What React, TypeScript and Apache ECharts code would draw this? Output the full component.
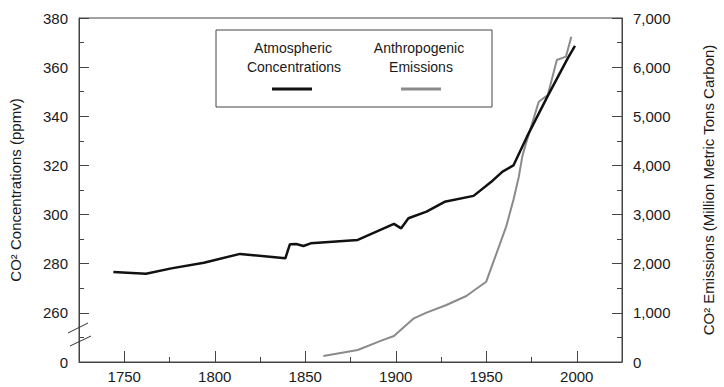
import React, { useEffect, useRef } from "react";
import * as echarts from "echarts";

const concYears = [1744, 1762, 1776, 1794, 1814, 1839, 1841.5, 1845, 1849, 1853, 1879, 1899, 1903, 1907, 1917, 1927, 1943, 1953.5, 1959, 1965, 1972.5, 1984, 1995, 1999];
const concValues = [276.6, 275.9, 278.1, 280.4, 284.0, 282.2, 287.9, 288.0, 287.2, 288.3, 289.7, 296.2, 294.4, 298.5, 301.2, 305.2, 307.6, 313.8, 317.5, 320.0, 331.7, 348.3, 363.6, 368.7];

const emisYears = [1860, 1879, 1892, 1899, 1910, 1917, 1928, 1939, 1943, 1950, 1955, 1961, 1965, 1968, 1970, 1972, 1979, 1984, 1989, 1994, 1997];
const emisValues = [122, 244, 434, 529, 889, 1004, 1160, 1343, 1450, 1634, 2143, 2753, 3297, 3771, 4200, 4450, 5297, 5434, 6146, 6213, 6620];

const seriesNames = ["Atmospheric Concentrations", "Anthropogenic Emissions"];
const leftAxisName = "CO² Concentrations (ppmv)";
const rightAxisName = "CO² Emissions (Million Metric Tons Carbon)";

const FONT = "'Liberation Sans', Arial, sans-serif";
const AXIS_COLOR = "#444";
const TEXT_COLOR = "#1a1a1a";

export default function App() {
  const ref = useRef<HTMLDivElement>(null);
  useEffect(() => {
    document.body.style.margin = "0";
    if (!ref.current) return;
    const chart = echarts.init(ref.current, null, { renderer: "svg" });
    const concData = concYears.map((y, i) => [y, concValues[i]]);
    const emisData = emisYears.map((y, i) => [y, emisValues[i]]);
    chart.setOption({
      animation: false,
      backgroundColor: "#fff",
      textStyle: { fontFamily: FONT },
      grid: {
        left: 78,
        right: 94,
        top: 18,
        bottom: 25,
        show: true,
        borderColor: AXIS_COLOR,
        borderWidth: 1,
        backgroundColor: "transparent",
      },
      xAxis: {
        type: "value",
        min: 1725,
        max: 2025,
        splitNumber: 6,
        axisLine: { show: true, lineStyle: { color: AXIS_COLOR, width: 1 } },
        axisTick: { show: true, inside: true, length: 11, lineStyle: { color: AXIS_COLOR } },
        minorTick: { show: true, splitNumber: 2, length: 5, lineStyle: { color: AXIS_COLOR } },
        splitLine: { show: false },
        axisLabel: {
          margin: 7,
          color: TEXT_COLOR,
          fontSize: 15,
          fontFamily: FONT,
          formatter: (v: number) => (v % 50 === 0 ? String(v) : ""),
        },
      },
      yAxis: [
        {
          type: "value",
          min: 240,
          max: 380,
          interval: 20,
          position: "left",
          name: leftAxisName,
          nameLocation: "middle",
          nameRotate: 90,
          nameGap: 56,
          nameTextStyle: { fontSize: 15, color: TEXT_COLOR, fontFamily: FONT },
          axisLine: { show: true, lineStyle: { color: AXIS_COLOR, width: 1 } },
          axisTick: { show: true, inside: true, length: 10, lineStyle: { color: AXIS_COLOR } },
          minorTick: { show: true, splitNumber: 2, length: 5, lineStyle: { color: AXIS_COLOR } },
          splitLine: { show: false },
          axisLabel: {
            margin: 11,
            color: TEXT_COLOR,
            fontSize: 15,
            fontFamily: FONT,
            formatter: (v: number) => (v === 240 ? "0" : String(v)),
          },
        },
        {
          type: "value",
          min: 0,
          max: 7000,
          interval: 1000,
          position: "right",
          name: rightAxisName,
          nameLocation: "middle",
          nameRotate: 90,
          nameGap: 79,
          nameTextStyle: { fontSize: 15, color: TEXT_COLOR, fontFamily: FONT },
          axisLine: { show: true, lineStyle: { color: AXIS_COLOR, width: 1 } },
          axisTick: { show: true, inside: true, length: 10, lineStyle: { color: AXIS_COLOR } },
          minorTick: { show: true, splitNumber: 2, length: 5, lineStyle: { color: AXIS_COLOR } },
          splitLine: { show: false },
          axisLabel: {
            margin: 11,
            color: TEXT_COLOR,
            fontSize: 15,
            fontFamily: FONT,
            formatter: (v: number) => v.toLocaleString("en-US"),
          },
        },
      ],
      series: [
        {
          name: seriesNames[1],
          type: "line",
          yAxisIndex: 1,
          data: emisData,
          showSymbol: false,
          lineStyle: { color: "#8a8a8a", width: 2 },
          z: 2,
        },
        {
          name: seriesNames[0],
          type: "line",
          yAxisIndex: 0,
          data: concData,
          showSymbol: false,
          lineStyle: { color: "#111", width: 2.5 },
          z: 3,
        },
      ],
      graphic: [
        {
          type: "rect",
          shape: { x: 216, y: 30, width: 276, height: 77 },
          style: { fill: "#fff", stroke: AXIS_COLOR, lineWidth: 1 },
          z: 10,
        },
        {
          type: "text",
          x: 293,
          y: 48,
          style: { text: "Atmospheric", font: `14px ${FONT}`, fill: TEXT_COLOR, align: "center", verticalAlign: "middle", textAlign: "center", textVerticalAlign: "middle" },
          z: 11,
        },
        {
          type: "text",
          x: 294,
          y: 67,
          style: { text: "Concentrations", font: `14px ${FONT}`, fill: TEXT_COLOR, align: "center", verticalAlign: "middle", textAlign: "center", textVerticalAlign: "middle" },
          z: 11,
        },
        {
          type: "line",
          shape: { x1: 272, y1: 89, x2: 312, y2: 89 },
          style: { stroke: "#111", lineWidth: 3 },
          z: 11,
        },
        {
          type: "text",
          x: 419,
          y: 48,
          style: { text: "Anthropogenic", font: `14px ${FONT}`, fill: TEXT_COLOR, align: "center", verticalAlign: "middle", textAlign: "center", textVerticalAlign: "middle" },
          z: 11,
        },
        {
          type: "text",
          x: 421,
          y: 67,
          style: { text: "Emissions", font: `14px ${FONT}`, fill: TEXT_COLOR, align: "center", verticalAlign: "middle", textAlign: "center", textVerticalAlign: "middle" },
          z: 11,
        },
        {
          type: "line",
          shape: { x1: 401, y1: 89, x2: 441, y2: 89 },
          style: { stroke: "#8a8a8a", lineWidth: 3 },
          z: 11,
        },
        {
          type: "line",
          shape: { x1: 68, y1: 333, x2: 88, y2: 323 },
          style: { stroke: "#333", lineWidth: 1 },
          z: 11,
        },
        {
          type: "line",
          shape: { x1: 70, y1: 346, x2: 91, y2: 336 },
          style: { stroke: "#333", lineWidth: 1 },
          z: 11,
        },
      ],
    });
    return () => chart.dispose();
  }, []);
  return <div ref={ref} style={{ width: 724, height: 387 }} />;
}
